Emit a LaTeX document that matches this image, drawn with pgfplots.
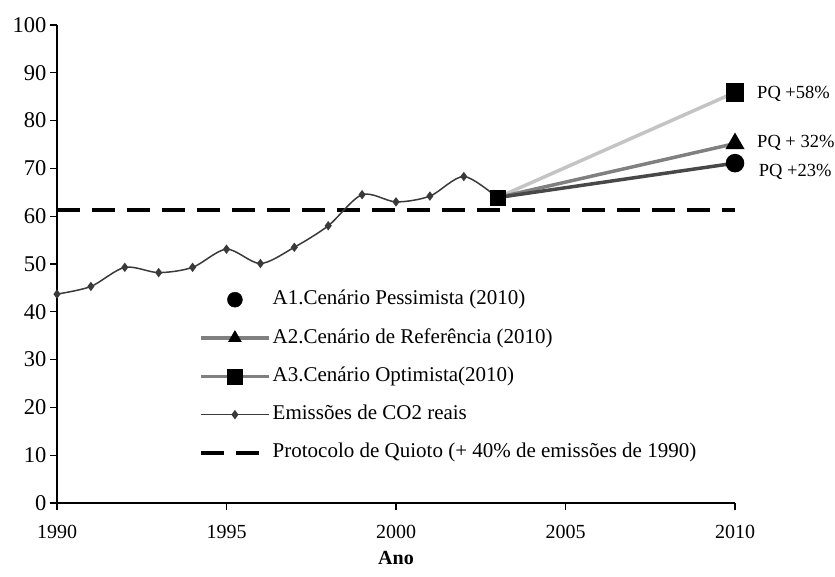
\documentclass[border=0pt]{standalone}
\usepackage{pgfplots}
\pgfplotsset{compat=1.18}
\usepackage{fontspec}
\setmainfont{Liberation Serif}
\definecolor{lightg}{RGB}{196,196,196}
\definecolor{midg}{RGB}{128,128,128}
\definecolor{darkg}{RGB}{72,72,72}
\definecolor{co2}{RGB}{58,58,58}
\begin{document}
\fontsize{21bp}{24bp}\selectfont
\begin{tikzpicture}
\path[use as bounding box] (-57bp,-74bp) rectangle (778bp,503bp);
\begin{axis}[
  at={(0,0)}, anchor=south west,
  scale only axis, width=678bp, height=478bp,
  xmin=1990, xmax=2010, ymin=0, ymax=100,
  axis lines*=left,
  axis line style={line width=1.3bp, -},
  xtick={1990,1995,...,2010}, ytick={0,10,...,100},
  tick align=outside, major tick length=7bp,
  tick style={line width=1.2bp, black},
  /pgf/number format/assume math mode=true,
  /pgf/number format/set thousands separator={},
  xticklabel style={font=\fontsize{20bp}{23bp}\selectfont, yshift=-8bp},
  yticklabel style={font=\fontsize{22.5bp}{25bp}\selectfont, xshift=3.5bp},
  xlabel={\textbf{Ano}},
  xlabel style={font=\fontsize{20bp}{23bp}\selectfont, at={(axis description cs:0.5,0)}, anchor=center, yshift=-55bp},
  clip=false,
  legend image code/.code={\draw[mark repeat=2,mark phase=2,#1] plot coordinates {(0bp,0bp) (34bp,0bp) (68bp,0bp)};},
  legend cell align=left,
  legend style={draw=none, fill=none, at={(0.205,0.455)}, anchor=north west,
    font=\fontsize{21bp}{24bp}\selectfont, row sep=14.3bp,
    nodes={inner sep=2bp, text height=15bp, text depth=5bp}},
]
% legend images
\addlegendimage{legend image code/.code={\fill[black] (34bp,0bp) circle (7.5bp);}}
\addlegendentry{A1.Cenário Pessimista (2010)}
\addlegendimage{line width=3.5bp, midg, mark=triangle*, mark size=7.5bp, mark options={draw=black, fill=black, line width=0.3bp}}
\addlegendentry{A2.Cenário de Referência (2010)}
\addlegendimage{line width=3.5bp, midg, mark=square*, mark size=7.5bp, mark options={draw=black, fill=black, line width=0.3bp}}
\addlegendentry{A3.Cenário Optimista(2010)}
\addlegendimage{line width=1.5bp, co2, mark=diamond*, mark size=3.5bp, mark options={fill=co2}}
\addlegendentry{Emissões de CO2 reais}
\addlegendimage{line width=3.5bp, black, dash pattern=on 23bp off 12bp}
\addlegendentry{Protocolo de Quioto (+ 40\% de emissões de 1990)}

% Kyoto line
\addplot[forget plot, line width=3.5bp, black, dash pattern=on 23bp off 12bp] coordinates {(1990,61.3) (2010,61.3)};

% real emissions
\addplot[forget plot, smooth, tension=0.5, line width=1.5bp, co2, mark=diamond*, mark size=3.5bp, mark options={fill=co2}] coordinates {
(1990,43.7) (1991,45.3) (1992,49.3) (1993,48.2) (1994,49.3) (1995,53.1) (1996,50.1)
(1997,53.5) (1998,58.0) (1999,64.5) (2000,63.0) (2001,64.2) (2002,68.3) (2003,63.8)};

% scenarios
\addplot[forget plot, line width=3.5bp, lightg, mark=square*, mark size=7.5bp, mark indices={2}, mark options={draw=black, fill=black}] coordinates {(2003,63.9) (2010,85.9)};
\addplot[forget plot, line width=3.5bp, midg, mark=triangle*, mark size=7.5bp, mark indices={2}, mark options={draw=black, fill=black}] coordinates {(2003,63.9) (2010,75.2)};
\addplot[forget plot, line width=3.5bp, darkg, mark=*, mark size=7.5bp, mark indices={2}, mark options={draw=black, fill=black}] coordinates {(2003,63.9) (2010,71.1)};
\addplot[forget plot, only marks, mark=square*, mark size=7.5bp, mark options={draw=black, fill=black}] coordinates {(2003,63.9)};

\node[anchor=west, inner sep=0pt, font=\fontsize{18.5bp}{21bp}\selectfont] at (axis cs:2010.65,85.6) {PQ +58\%};
\node[anchor=west, inner sep=0pt, font=\fontsize{18.5bp}{21bp}\selectfont] at (axis cs:2010.65,75.3) {PQ + 32\%};
\node[anchor=west, inner sep=0pt, font=\fontsize{18.5bp}{21bp}\selectfont] at (axis cs:2010.7,69.3) {PQ +23\%};
\end{axis}
\end{tikzpicture}
\end{document}
